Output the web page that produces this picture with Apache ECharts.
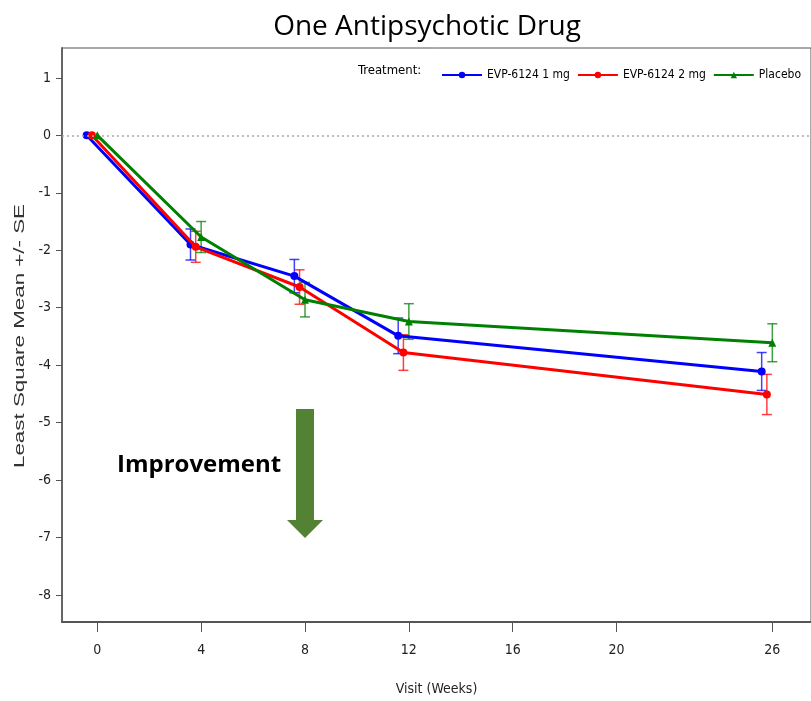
<!DOCTYPE html>
<html>
<head>
<meta charset="utf-8">
<script src="https://cdn.jsdelivr.net/npm/echarts@6/dist/echarts.min.js"></script>
<style>
  html, body { margin: 0; padding: 0; background: #fff; }
  #chart { width: 811px; height: 701px; }
</style>
</head>
<body>
<div id="chart"></div>
<script>
// Visit weeks and least-square mean change (+/- SE) per treatment arm
const weeks = [0, 4, 8, 12, 26];
const xTickValues = [0, 4, 8, 12, 16, 20, 26];
const yTickValues = [1, 0, -1, -2, -3, -4, -5, -6, -7, -8];

const seriesNames = ['EVP-6124 1 mg', 'EVP-6124 2 mg', 'Placebo'];
const mean1mg = [0, -1.90, -2.45, -3.49, -4.11];
const se1mg   = [0, 0.27, 0.29, 0.31, 0.33];
const mean2mg = [0, -1.94, -2.64, -3.78, -4.51];
const se2mg   = [0, 0.27, 0.30, 0.31, 0.35];
const meanPbo = [0, -1.77, -2.86, -3.24, -3.61];
const sePbo   = [0, 0.27, 0.30, 0.31, 0.33];

// small horizontal dodge so the error bars don't overlap
const dodge = [-0.41, -0.21, 0];
const colors = ['#0000ff', '#ff0000', '#008000'];
const symbols = ['circle', 'circle', 'triangle'];
const means = [mean1mg, mean2mg, meanPbo];
const ses = [se1mg, se2mg, sePbo];

const narrow = '"DejaVu Sans Condensed", "Liberation Sans Narrow", sans-serif';

const chart = echarts.init(document.getElementById('chart'));

const series = [];
seriesNames.forEach((name, k) => {
  series.push({
    name: name,
    type: 'line',
    data: weeks.map((w, i) => [w + dodge[k], means[k][i]]),
    symbol: symbols[k],
    symbolSize: 8,
    lineStyle: { color: colors[k], width: 3 },
    itemStyle: { color: colors[k] },
    z: 3 + k,
    markLine: k === 0 ? {
      silent: true,
      symbol: 'none',
      label: { show: false },
      lineStyle: { color: '#aaa', type: [2, 3], width: 1.5 },
      data: [{ yAxis: 0 }]
    } : undefined
  });
  series.push({
    name: name + ' SE',
    type: 'custom',
    data: weeks.map((w, i) => [w + dodge[k], means[k][i] - ses[k][i], means[k][i] + ses[k][i]]),
    z: 2,
    renderItem: function (params, api) {
      if (api.value(2) - api.value(1) <= 0) return null;
      const x = api.value(0);
      const lo = api.coord([x, api.value(1)]);
      const hi = api.coord([x, api.value(2)]);
      const half = 5;
      const style = { stroke: colors[k], lineWidth: 1.5, opacity: 0.75 };
      return {
        type: 'group',
        children: [
          { type: 'line', shape: { x1: lo[0], y1: lo[1], x2: hi[0], y2: hi[1] }, style: style },
          { type: 'line', shape: { x1: lo[0] - half, y1: lo[1], x2: lo[0] + half, y2: lo[1] }, style: style },
          { type: 'line', shape: { x1: hi[0] - half, y1: hi[1], x2: hi[0] + half, y2: hi[1] }, style: style }
        ]
      };
    }
  });
});

chart.setOption({
  animation: false,
  backgroundColor: '#fff',
  title: {
    text: 'One Antipsychotic Drug',
    left: 422,
    top: 8,
    textAlign: 'center',
    textStyle: { fontFamily: '"Open Sans", sans-serif', fontWeight: 'normal', fontSize: 28, color: '#000' }
  },
  legend: {
    data: seriesNames,
    left: 436,
    top: 64,
    width: 420,
    itemWidth: 40,
    itemHeight: 8,
    itemGap: 7,
    textStyle: { fontFamily: narrow, fontSize: 12, color: '#000' }
  },
  grid: {
    left: 62,
    top: 48,
    right: -4,
    bottom: 78,
    show: true,
    borderColor: '#555',
    borderWidth: 1
  },
  xAxis: {
    type: 'value',
    min: -1.36,
    max: 27.49,
    name: 'Visit (Weeks)',
    nameLocation: 'middle',
    nameGap: 60,
    nameTextStyle: { fontFamily: narrow, fontSize: 14, color: '#222' },
    splitLine: { show: false },
    axisLine: { onZero: false, lineStyle: { color: '#555', width: 2 } },
    axisTick: { customValues: xTickValues, length: 10, lineStyle: { color: '#555' } },
    axisLabel: { customValues: xTickValues, margin: 21, fontFamily: narrow, fontSize: 14, color: '#222' }
  },
  yAxis: {
    type: 'value',
    min: -8.47,
    max: 1.52,
    splitLine: { show: false },
    axisLine: { show: true, onZero: false, lineStyle: { color: '#666', width: 2 } },
    axisTick: { customValues: yTickValues, length: 6, lineStyle: { color: '#555' } },
    axisLabel: { customValues: yTickValues, margin: 11, fontFamily: narrow, fontSize: 14, color: '#222' }
  },
  graphic: [
    {
      // y-axis title, drawn wide-set along the axis
      type: 'text',
      x: 20,
      y: 336,
      rotation: Math.PI / 2,
      scaleX: 1.49,
      style: {
        text: 'Least Square Mean +/- SE',
        font: '15px "Liberation Sans", Arial, sans-serif',
        fill: '#333',
        align: 'center',
        verticalAlign: 'middle'
      }
    },
    {
      type: 'text',
      left: 358,
      top: 64,
      style: { text: 'Treatment:', font: '13px ' + narrow, fill: '#000' }
    },
    {
      type: 'text',
      left: 117,
      top: 453,
      style: { text: 'Improvement', font: 'bold 24px "Open Sans", sans-serif', fill: '#000' }
    },
    {
      type: 'polygon',
      shape: { points: [[296, 409], [314, 409], [314, 520], [323, 520], [305, 538], [287, 520], [296, 520]] },
      style: { fill: '#548235' }
    }
  ],
  series: series
});
</script>
</body>
</html>
